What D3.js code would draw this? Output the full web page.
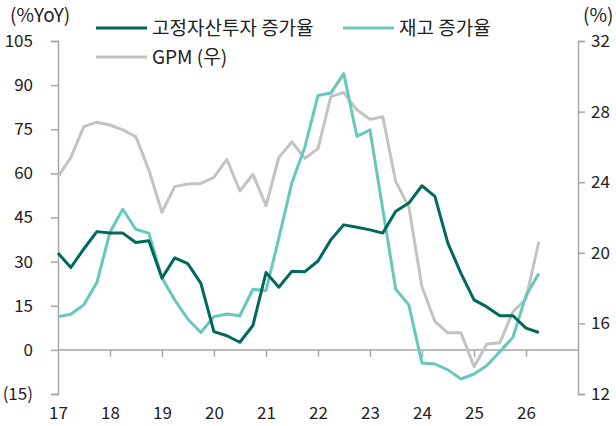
<!DOCTYPE html>
<html>
<head>
<meta charset="utf-8">
<script src="https://cdn.jsdelivr.net/npm/d3@7"></script>
<style>
  body { margin: 0; background: #fff; }
  svg text { font-family: "Noto Sans CJK KR", "Noto Sans", sans-serif; fill: #222; }
</style>
</head>
<body>
<div id="chart"></div>
<script>
// quarterly points, 17Q1 .. 26Q2
const quarters = d3.range(38).map(i => new Date(2017 + Math.floor(i / 4), (i % 4) * 3, 1));

const investGrowth = [32.9, 28.0, 34.3, 40.2, 39.7, 39.7, 36.5, 37.1, 24.4, 31.3,
    29.3, 22.7, 6.2, 4.8, 2.6, 8.3, 26.3, 21.3, 26.7, 26.6,
    30.2, 37.4, 42.5, 41.7, 40.8, 39.7, 47.1, 49.9, 55.8, 52.2,
    36.3, 26.0, 17.0, 14.6, 11.6, 11.6, 7.4, 5.9];

const inventoryGrowth = [11.3, 12.1, 15.3, 22.9, 40.0, 47.8, 41.0, 39.7, 24.4, 17.0,
    10.5, 5.9, 11.3, 12.2, 11.6, 20.6, 20.2, 38.0, 56.7, 69.0,
    86.5, 87.3, 93.9, 72.6, 74.8, 47.7, 20.6, 15.3, -4.5, -4.8,
    -6.8, -9.9, -8.2, -5.3, -0.6, 4.3, 18.5, 26.0];

const gpm = [24.3, 25.4, 27.15, 27.4, 27.24, 26.96, 26.58, 24.7, 22.3, 23.75,
    23.9, 23.93, 24.27, 25.3, 23.5, 24.45, 22.67, 25.4, 26.28, 25.35,
    25.9, 28.85, 29.08, 28.1, 27.56, 27.71, 24.03, 22.6, 18.08, 16.12,
    15.47, 15.47, 13.55, 14.83, 14.9, 16.66, 17.4, 20.63];

const leftTicks = [-15, 0, 15, 30, 45, 60, 75, 90, 105];
const rightTicks = [12, 16, 20, 24, 28, 32];
const yearTicks = d3.range(2017, 2027).map(y => new Date(y, 0, 1));

const width = 616, height = 426;
const plot = { left: 58, right: 578, top: 41, bottom: 394 };

const svg = d3.select("#chart").append("svg")
    .attr("width", width)
    .attr("height", height);

const x = d3.scaleTime()
    .domain([new Date(2017, 0, 1), new Date(2027, 0, 1)])
    .range([plot.left, plot.right]);
const yL = d3.scaleLinear().domain([-15, 105]).range([plot.bottom, plot.top]);
const yR = d3.scaleLinear().domain([12, 32]).range([plot.bottom, plot.top]);

const axisColor = "#a6a6a6";

// left axis
const gl = svg.append("g")
    .attr("transform", `translate(${plot.left},0)`)
    .call(d3.axisLeft(yL).tickValues(leftTicks).tickSize(7).tickPadding(18)
        .tickFormat(d => d < 0 ? `(${-d})` : d));

// right axis
const gr = svg.append("g")
    .attr("transform", `translate(${plot.right},0)`)
    .call(d3.axisRight(yR).tickValues(rightTicks).tickSize(7).tickPadding(6));

// x axis along zero line, labels down under the plot
const gx = svg.append("g")
    .attr("transform", `translate(0,${yL(0)})`)
    .call(d3.axisBottom(x).tickValues(yearTicks).tickSize(7)
        .tickFormat(d3.timeFormat("%y")));

[gl, gr, gx].forEach(g => {
    g.select(".domain").attr("stroke", axisColor).attr("stroke-width", 1.5);
    g.selectAll(".tick line").attr("stroke", axisColor).attr("stroke-width", 1.5);
    g.selectAll(".tick text").style("font-size", "17px").attr("fill", "#222");
});
gx.select(".domain").attr("d", `M${plot.left},0H${plot.right}`);
gx.selectAll(".tick text").attr("y", 69).attr("dy", 0);
gx.selectAll(".tick").filter((d, i) => i === 0).select("line").remove();

// unit labels
svg.append("text").attr("x", 10).attr("y", 22).style("font-size", "19px").text("(%YoY)");
svg.append("text").attr("x", 583).attr("y", 22).style("font-size", "19px").text("(%)");

// lines
const lineL = d3.line().x((d, i) => x(quarters[i])).y(d => yL(d));
const lineR = d3.line().x((d, i) => x(quarters[i])).y(d => yR(d));

const series = [
    { name: "GPM (우)", data: gpm, line: lineR, color: "#c3c3c3" },
    { name: "재고 증가율", data: inventoryGrowth, line: lineL, color: "#66c9b9" },
    { name: "고정자산투자 증가율", data: investGrowth, line: lineL, color: "#00695a" }
];

svg.append("g").selectAll("path")
    .data(series)
    .enter().append("path")
    .attr("d", d => d.line(d.data))
    .attr("fill", "none")
    .attr("stroke", d => d.color)
    .attr("stroke-width", 3)
    .attr("stroke-linejoin", "round");

// legend
const legendItems = [
    { s: series[2], lx: 96, ly: 28 },
    { s: series[1], lx: 343, ly: 28 },
    { s: series[0], lx: 96, ly: 57 }
];
const leg = svg.append("g").selectAll("g")
    .data(legendItems)
    .enter().append("g")
    .attr("transform", d => `translate(${d.lx},${d.ly})`);
leg.append("line")
    .attr("x1", 0).attr("x2", 51)
    .attr("stroke", d => d.s.color)
    .attr("stroke-width", 3);
leg.append("text")
    .attr("x", 56).attr("dy", "0.35em")
    .style("font-size", "19px")
    .text(d => d.s.name);
</script>
</body>
</html>
